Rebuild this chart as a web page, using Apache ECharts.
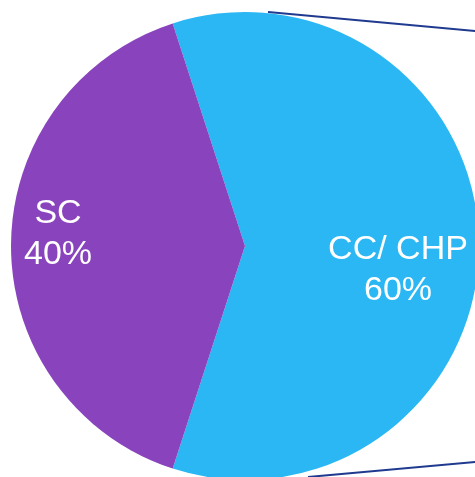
<!DOCTYPE html>
<html>
<head>
<meta charset="utf-8">
<script src="https://cdn.jsdelivr.net/npm/echarts@6/dist/echarts.min.js"></script>
<style>
html,body{margin:0;padding:0;background:#fff;}
#chart{width:475px;height:477px;}
</style>
</head>
<body>
<div id="chart"></div>
<script>
const categories = ['CC/ CHP', 'SC'];
const values = [60, 40];
const colors = ['#2BB7F3', '#8944BD'];

const chart = echarts.init(document.getElementById('chart'));
const cx = 245, cy = 246, R = 234;

chart.setOption({
  animation: false,
  backgroundColor: '#ffffff',
  graphic: [
    { type: 'line', z: 100, shape: { x1: 268, y1: 12, x2: 480, y2: 31.5 },
      style: { stroke: '#1F3A8F', lineWidth: 2 } },
    { type: 'line', z: 100, shape: { x1: 308, y1: 477, x2: 480, y2: 461.5 },
      style: { stroke: '#1F3A8F', lineWidth: 2 } }
  ],
  series: [{
    type: 'pie',
    center: [cx, cy],
    radius: R,
    startAngle: 108,
    clockwise: true,
    silent: true,
    itemStyle: { borderWidth: 0 },
    label: {
      show: true,
      position: 'inside',
      color: '#ffffff',
      fontFamily: '"Liberation Sans", Arial, sans-serif',
      fontSize: 34,
      lineHeight: 41,
      formatter: '{b}\n{d}%'
    },
    labelLayout: function (p) {
      return p.dataIndex === 0 ? { dx: 33, dy: 24 } : { dx: -67, dy: -12 };
    },
    data: categories.map((c, i) => ({ name: c, value: values[i], itemStyle: { color: colors[i] } }))
  }]
});
</script>
</body>
</html>
